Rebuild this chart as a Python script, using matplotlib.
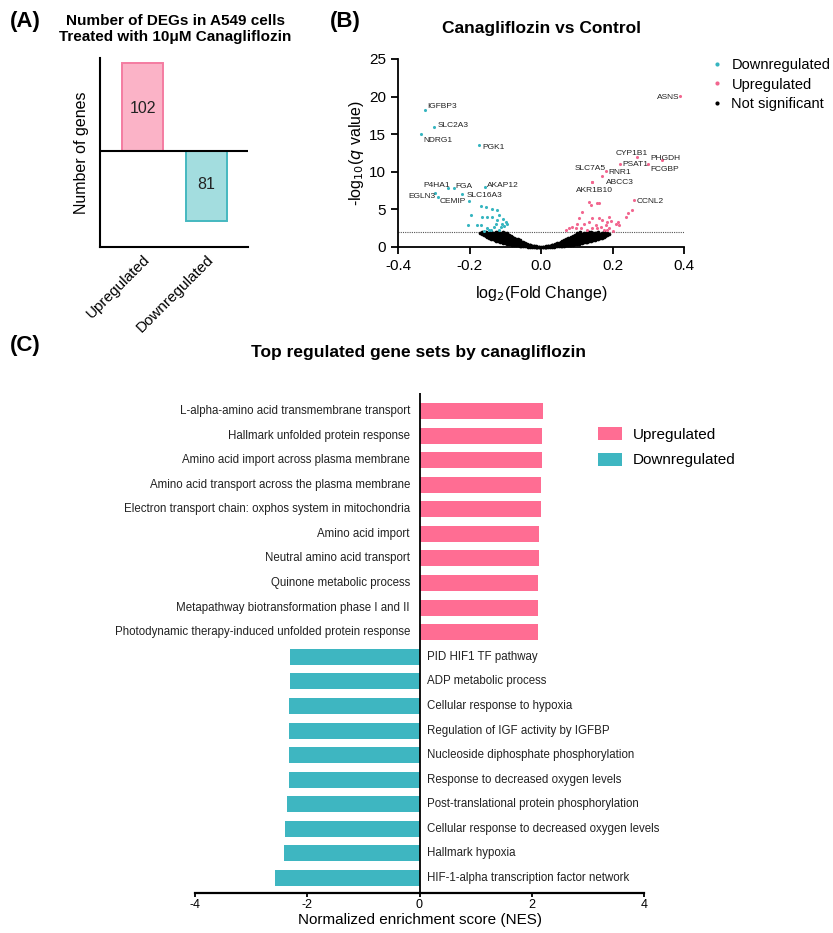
import matplotlib
matplotlib.use("Agg")
import matplotlib.pyplot as plt
from matplotlib.patches import Patch
from matplotlib.lines import Line2D
import numpy as np

plt.rcParams['font.family'] = ['Liberation Sans', 'DejaVu Sans']
plt.rcParams['axes.unicode_minus'] = False

# ---------------- Panel A data ----------------
deg_categories = ["Upregulated", "Downregulated"]
deg_counts = [102, -81]

# ---------------- Panel B data ----------------
# labelled genes: log2 fold change and -log10 q
down_genes = ["IGFBP3", "SLC2A3", "NDRG1", "PGK1", "P4HA1", "FGA", "AKAP12", "EGLN3", "CEMIP", "SLC16A3"]
down_genes_fc = [-0.324, -0.298, -0.336, -0.174, -0.260, -0.244, -0.157, -0.296, -0.288, -0.221]
down_genes_q = [18.2, 15.9, 15.0, 13.5, 7.9, 7.8, 8.0, 7.2, 6.6, 7.1]

up_genes = ["ASNS", "CYP1B1", "PHGDH", "PSAT1", "FCGBP", "SLC7A5", "RNR1", "ABCC3", "AKR1B10", "CCNL2"]
up_genes_fc = [0.390, 0.268, 0.338, 0.221, 0.300, 0.183, 0.172, 0.142, 0.142, 0.261]
up_genes_q = [20.1, 12.0, 11.6, 11.0, 11.1, 10.1, 9.45, 8.7, 8.7, 6.3]

# other significant genes
down_fc = [-0.202, -0.197, -0.169, -0.154, -0.137, -0.123, -0.165, -0.151, -0.137, -0.118, -0.099,
           -0.204, -0.179, -0.169, -0.127, -0.109, -0.095, -0.113, -0.132, -0.151, -0.160, -0.118,
           -0.123, -0.106, -0.104, -0.140, -0.145]
down_q = [6.1, 4.24, 5.43, 5.34, 5.10, 4.95, 4.00, 4.00, 4.00, 4.30, 3.36,
          2.90, 2.90, 2.90, 3.10, 3.10, 3.00, 2.70, 2.70, 2.50, 2.16, 2.25,
          3.60, 3.67, 2.80, 2.25, 2.30]

up_fc = [0.133, 0.140, 0.156, 0.163, 0.254, 0.244, 0.238, 0.116, 0.107, 0.142, 0.163, 0.172,
         0.186, 0.191, 0.214, 0.219, 0.182, 0.154, 0.135, 0.121, 0.102, 0.088, 0.079, 0.097,
         0.112, 0.144, 0.158, 0.168, 0.186, 0.191, 0.210, 0.196, 0.069, 0.128, 0.175, 0.200]
up_q = [6.0, 5.65, 5.8, 5.9, 4.9, 4.46, 4.0, 4.7, 3.8, 3.8, 3.8, 3.58,
        3.36, 4.0, 3.36, 2.9, 2.9, 2.9, 3.36, 3.1, 3.1, 2.7, 2.5, 2.5,
        2.5, 2.5, 2.5, 2.7, 2.25, 2.5, 3.0, 3.44, 2.25, 2.2, 2.2, 2.1]

# non-significant genes, grouped by fold-change column
ns_fc_cols = [-0.170, -0.165, -0.160, -0.155, -0.150, -0.145, -0.140, -0.135, -0.130, -0.125,
              -0.120, -0.115, -0.110, -0.105, -0.100, -0.095, -0.090, -0.085, -0.080, -0.075,
              -0.070, -0.065, -0.060, -0.055, -0.050, -0.045, -0.040, -0.035, -0.030, -0.025,
              -0.020, -0.015, -0.010, -0.005, 0.000, 0.005, 0.010, 0.015, 0.020, 0.025,
              0.030, 0.035, 0.040, 0.045, 0.050, 0.055, 0.060, 0.065, 0.070, 0.075,
              0.080, 0.085, 0.090, 0.095, 0.100, 0.105, 0.110, 0.115, 0.120, 0.125,
              0.130, 0.135, 0.140, 0.145, 0.150, 0.155, 0.160, 0.165, 0.170, 0.175,
              0.180, 0.185, 0.190]
ns_q_cols = [
    [1.9], [1.7, 1.95], [1.55, 1.85], [1.4, 1.7, 1.95], [1.3, 1.6, 1.9],
    [1.2, 1.5, 1.8], [1.1, 1.4, 1.7, 1.95], [1.0, 1.3, 1.6, 1.9], [0.9, 1.2, 1.5, 1.8],
    [0.85, 1.15, 1.45, 1.75, 1.98],
    [0.75, 1.05, 1.35, 1.65, 1.95], [0.7, 1.0, 1.3, 1.6, 1.9], [0.6, 0.9, 1.2, 1.5, 1.8],
    [0.55, 0.85, 1.15, 1.45, 1.75, 1.95], [0.5, 0.8, 1.1, 1.4, 1.7, 1.9],
    [0.45, 0.7, 1.0, 1.3, 1.6, 1.85], [0.4, 0.65, 0.95, 1.25, 1.55], [0.35, 0.6, 0.9, 1.2, 1.45],
    [0.3, 0.55, 0.85, 1.1, 1.35], [0.27, 0.5, 0.75, 1.0, 1.2],
    [0.23, 0.45, 0.7, 0.95, 1.1], [0.2, 0.4, 0.65, 0.85, 1.0], [0.17, 0.35, 0.55, 0.75, 0.9],
    [0.14, 0.3, 0.5, 0.7], [0.12, 0.27, 0.45, 0.6], [0.1, 0.22, 0.38, 0.5],
    [0.08, 0.18, 0.3, 0.42], [0.06, 0.15, 0.25, 0.33], [0.05, 0.12, 0.2, 0.27], [0.04, 0.1, 0.16],
    [0.03, 0.07, 0.12], [0.02, 0.05, 0.08], [0.01, 0.03], [0.005, 0.015], [0.0],
    [0.005, 0.015], [0.01, 0.03], [0.02, 0.05, 0.08], [0.03, 0.07, 0.12], [0.04, 0.1, 0.16],
    [0.05, 0.12, 0.2, 0.27], [0.06, 0.15, 0.25, 0.33], [0.08, 0.18, 0.3, 0.4],
    [0.1, 0.22, 0.36, 0.5], [0.12, 0.26, 0.42, 0.58], [0.14, 0.3, 0.48, 0.65],
    [0.16, 0.34, 0.54, 0.72, 0.85], [0.18, 0.38, 0.6, 0.8, 0.95],
    [0.2, 0.42, 0.65, 0.88, 1.05], [0.23, 0.46, 0.7, 0.95, 1.15],
    [0.26, 0.5, 0.76, 1.02, 1.25], [0.3, 0.55, 0.82, 1.1, 1.35], [0.33, 0.6, 0.88, 1.15, 1.45],
    [0.37, 0.65, 0.95, 1.25, 1.55], [0.4, 0.7, 1.0, 1.3, 1.6, 1.85],
    [0.45, 0.75, 1.05, 1.35, 1.65, 1.9], [0.5, 0.8, 1.1, 1.4, 1.7, 1.95],
    [0.55, 0.85, 1.15, 1.45, 1.75], [0.6, 0.9, 1.2, 1.5, 1.8], [0.65, 0.95, 1.25, 1.55, 1.85],
    [0.7, 1.0, 1.3, 1.6, 1.9], [0.75, 1.05, 1.35, 1.65, 1.95], [0.8, 1.1, 1.4, 1.7, 1.95],
    [0.9, 1.2, 1.5, 1.8], [0.95, 1.25, 1.55, 1.85], [1.0, 1.3, 1.6, 1.9],
    [1.1, 1.4, 1.7, 1.95], [1.15, 1.45, 1.75], [1.25, 1.55, 1.85], [1.35, 1.65, 1.95],
    [1.45, 1.75], [1.6, 1.9], [1.75],
]
q_threshold = 2.0

# ---------------- Panel C data ----------------
up_sets = [
    "L-alpha-amino acid transmembrane transport",
    "Hallmark unfolded protein response",
    "Amino acid import across plasma membrane",
    "Amino acid transport across the plasma membrane",
    "Electron transport chain: oxphos system in mitochondria",
    "Amino acid import",
    "Neutral amino acid transport",
    "Quinone metabolic process",
    "Metapathway biotransformation phase I and II",
    "Photodynamic therapy-induced unfolded protein response",
]
up_nes = [2.20, 2.19, 2.18, 2.16, 2.16, 2.13, 2.13, 2.12, 2.12, 2.12]

down_sets = [
    "PID HIF1 TF pathway",
    "ADP metabolic process",
    "Cellular response to hypoxia",
    "Regulation of IGF activity by IGFBP",
    "Nucleoside diphosphate phosphorylation",
    "Response to decreased oxygen levels",
    "Post-translational protein phosphorylation",
    "Cellular response to decreased oxygen levels",
    "Hallmark hypoxia",
    "HIF-1-alpha transcription factor network",
]
down_nes = [-2.31, -2.31, -2.32, -2.32, -2.32, -2.33, -2.36, -2.39, -2.42, -2.58]

# ---------------- colours ----------------
PINK_FILL, PINK_EDGE = "#FBB3C7", "#F47CA1"
CYAN_FILL, CYAN_EDGE = "#A3DDDF", "#45B8C0"
PINK = "#FF6D93"
CYAN = "#3EB6C1"
DOT_PINK = "#F2668F"
DOT_CYAN = "#36B5C0"

W, H = 833, 933
fig = plt.figure(figsize=(W / 100, H / 100), dpi=100)


def fx(px):
    return px / W


def fy(py):
    return 1 - py / H


# ================= Panel A =================
axA = fig.add_axes([fx(100), fy(247), fx(148), 189 / H])
xa = np.arange(len(deg_categories))
axA.bar(xa, deg_counts, width=0.64, color=[PINK_FILL, CYAN_FILL],
        edgecolor=[PINK_EDGE, CYAN_EDGE], linewidth=1.4, zorder=2)
for xi, v in zip(xa, deg_counts):
    axA.text(xi, v * 0.48, f"{abs(v)}", ha="center", va="center", fontsize=11.5, color="#222222", zorder=3)
axA.axhline(0, color="black", lw=1.5, zorder=3)
axA.set_xlim(-0.664, 1.648)
axA.set_ylim(-111, 108)
axA.set_yticks([])
axA.set_xticks(xa)
axA.set_xticklabels(deg_categories, rotation=45, ha="right", va="top",
                    rotation_mode="anchor", fontsize=11)
axA.tick_params(axis="x", length=0, pad=4)
for s in ["top", "right"]:
    axA.spines[s].set_visible(False)
for s in ["left", "bottom"]:
    axA.spines[s].set_linewidth(1.5)
axA.set_ylabel("Number of genes", fontsize=11.5, labelpad=8)

fig.text(fx(10), fy(22), "(A)", fontsize=16, fontweight="bold", va="center", ha="left")
fig.text(fx(175), fy(29), "Number of DEGs in A549 cells\nTreated with 10\u03bcM Canagliflozin",
         fontsize=11, fontweight="bold", ha="center", va="center", linespacing=1.1)

# ================= Panel B =================
axB = fig.add_axes([fx(398), fy(247), fx(286), 188 / H])
ns_fc = [x for x, col in zip(ns_fc_cols, ns_q_cols) for _ in col]
ns_q = [q for col in ns_q_cols for q in col]
axB.scatter(ns_fc, ns_q, s=7, c="black", linewidths=0, zorder=2, clip_on=False)
axB.scatter(down_fc + down_genes_fc, down_q + down_genes_q, s=5, c=DOT_CYAN, linewidths=0, zorder=3)
axB.scatter(up_fc + up_genes_fc, up_q + up_genes_q, s=5, c=DOT_PINK, linewidths=0, zorder=3)
axB.axhline(q_threshold, color="#555555", lw=0.8, ls=(0, (1, 1)), zorder=1)

# gene label placement (left edge, vertical centre)
label_pos = {
    "IGFBP3": (-0.317, 18.7), "SLC2A3": (-0.289, 16.1), "NDRG1": (-0.329, 14.1),
    "PGK1": (-0.165, 13.2), "P4HA1": (-0.329, 8.2), "FGA": (-0.240, 8.0),
    "AKAP12": (-0.150, 8.2), "EGLN3": (-0.371, 6.7), "CEMIP": (-0.283, 6.1),
    "SLC16A3": (-0.209, 6.85), "ASNS": (0.325, 19.9), "CYP1B1": (0.208, 12.4),
    "PHGDH": (0.305, 11.8), "PSAT1": (0.228, 11.0), "FCGBP": (0.305, 10.3),
    "SLC7A5": (0.093, 10.4), "RNR1": (0.188, 9.9), "ABCC3": (0.182, 8.6),
    "AKR1B10": (0.097, 7.55), "CCNL2": (0.268, 6.0),
}
for g in down_genes + up_genes:
    lx, ly = label_pos[g]
    axB.text(lx, ly, g, fontsize=6, ha="left", va="center", color="#222222", zorder=4)

axB.set_xlim(-0.4, 0.4)
axB.set_ylim(0, 25)
axB.set_xticks([-0.4, -0.2, 0.0, 0.2, 0.4])
axB.set_xticklabels(["-0.4", "-0.2", "0.0", "0.2", "0.4"])
axB.set_yticks([0, 5, 10, 15, 20, 25])
axB.tick_params(labelsize=11, width=1.3, length=5, direction="out")
for s in ["top", "right"]:
    axB.spines[s].set_visible(False)
for s in ["left", "bottom"]:
    axB.spines[s].set_linewidth(1.3)
axB.set_xlabel("log$_2$(Fold Change)", fontsize=11.5, labelpad=8)
axB.set_ylabel("-log$_{10}$($q$ value)", fontsize=11.5, labelpad=2)

fig.text(fx(330), fy(22), "(B)", fontsize=16, fontweight="bold", va="center", ha="left")
fig.text(fx(542), fy(29), "Canagliflozin vs Control", fontsize=12.5, fontweight="bold",
         ha="center", va="center")

legB = [
    Line2D([], [], ls="", marker="o", ms=3, mfc=DOT_CYAN, mec="none", label="Downregulated"),
    Line2D([], [], ls="", marker="o", ms=3, mfc=DOT_PINK, mec="none", label="Upregulated"),
    Line2D([], [], ls="", marker="o", ms=3, mfc="black", mec="none", label="Not significant"),
]
fig.legend(handles=legB, loc="upper left", bbox_to_anchor=(fx(711), fy(58)), frameon=False,
           fontsize=10.5, handlelength=0.8, handletextpad=0.6, labelspacing=0.38,
           borderpad=0, borderaxespad=0)

# ================= Panel C =================
axC = fig.add_axes([fx(195), fy(893), fx(449), 500 / H])
labels_c = up_sets + down_sets
nes_c = up_nes + down_nes
yc = np.arange(len(labels_c))
colors_c = [PINK] * len(up_sets) + [CYAN] * len(down_sets)
axC.barh(yc, nes_c, height=0.65, color=colors_c, zorder=2)
axC.axvline(0, color="black", lw=1.3, zorder=3)
for yi, lab, v in zip(yc, labels_c, nes_c):
    if v > 0:
        axC.text(-0.17, yi, lab, ha="right", va="center", fontsize=8.3, color="#222222")
    else:
        axC.text(0.13, yi, lab, ha="left", va="center", fontsize=8.3, color="#222222")
axC.set_xlim(-4, 4)
axC.set_ylim(19.61, -0.73)
axC.set_xticks([-4, -2, 0, 2, 4])
axC.set_yticks([])
axC.tick_params(axis="x", labelsize=9, width=1.3, length=3, pad=1)
for s in ["top", "right", "left"]:
    axC.spines[s].set_visible(False)
axC.spines["bottom"].set_linewidth(1.6)
axC.set_xlabel("Normalized enrichment score (NES)", fontsize=11, labelpad=2)

fig.text(fx(10), fy(345), "(C)", fontsize=16, fontweight="bold", va="center", ha="left")
fig.text(fx(419), fy(353), "Top regulated gene sets by canagliflozin", fontsize=12.5,
         fontweight="bold", ha="center", va="center")

legC = [Patch(facecolor=PINK, label="Upregulated"), Patch(facecolor=CYAN, label="Downregulated")]
fig.legend(handles=legC, loc="upper left", bbox_to_anchor=(fx(598), fy(427)), frameon=False,
           fontsize=11, handlelength=1.55, handleheight=0.95, handletextpad=0.75,
           labelspacing=0.7, borderpad=0, borderaxespad=0)

fig.savefig("out.png", dpi=100)
